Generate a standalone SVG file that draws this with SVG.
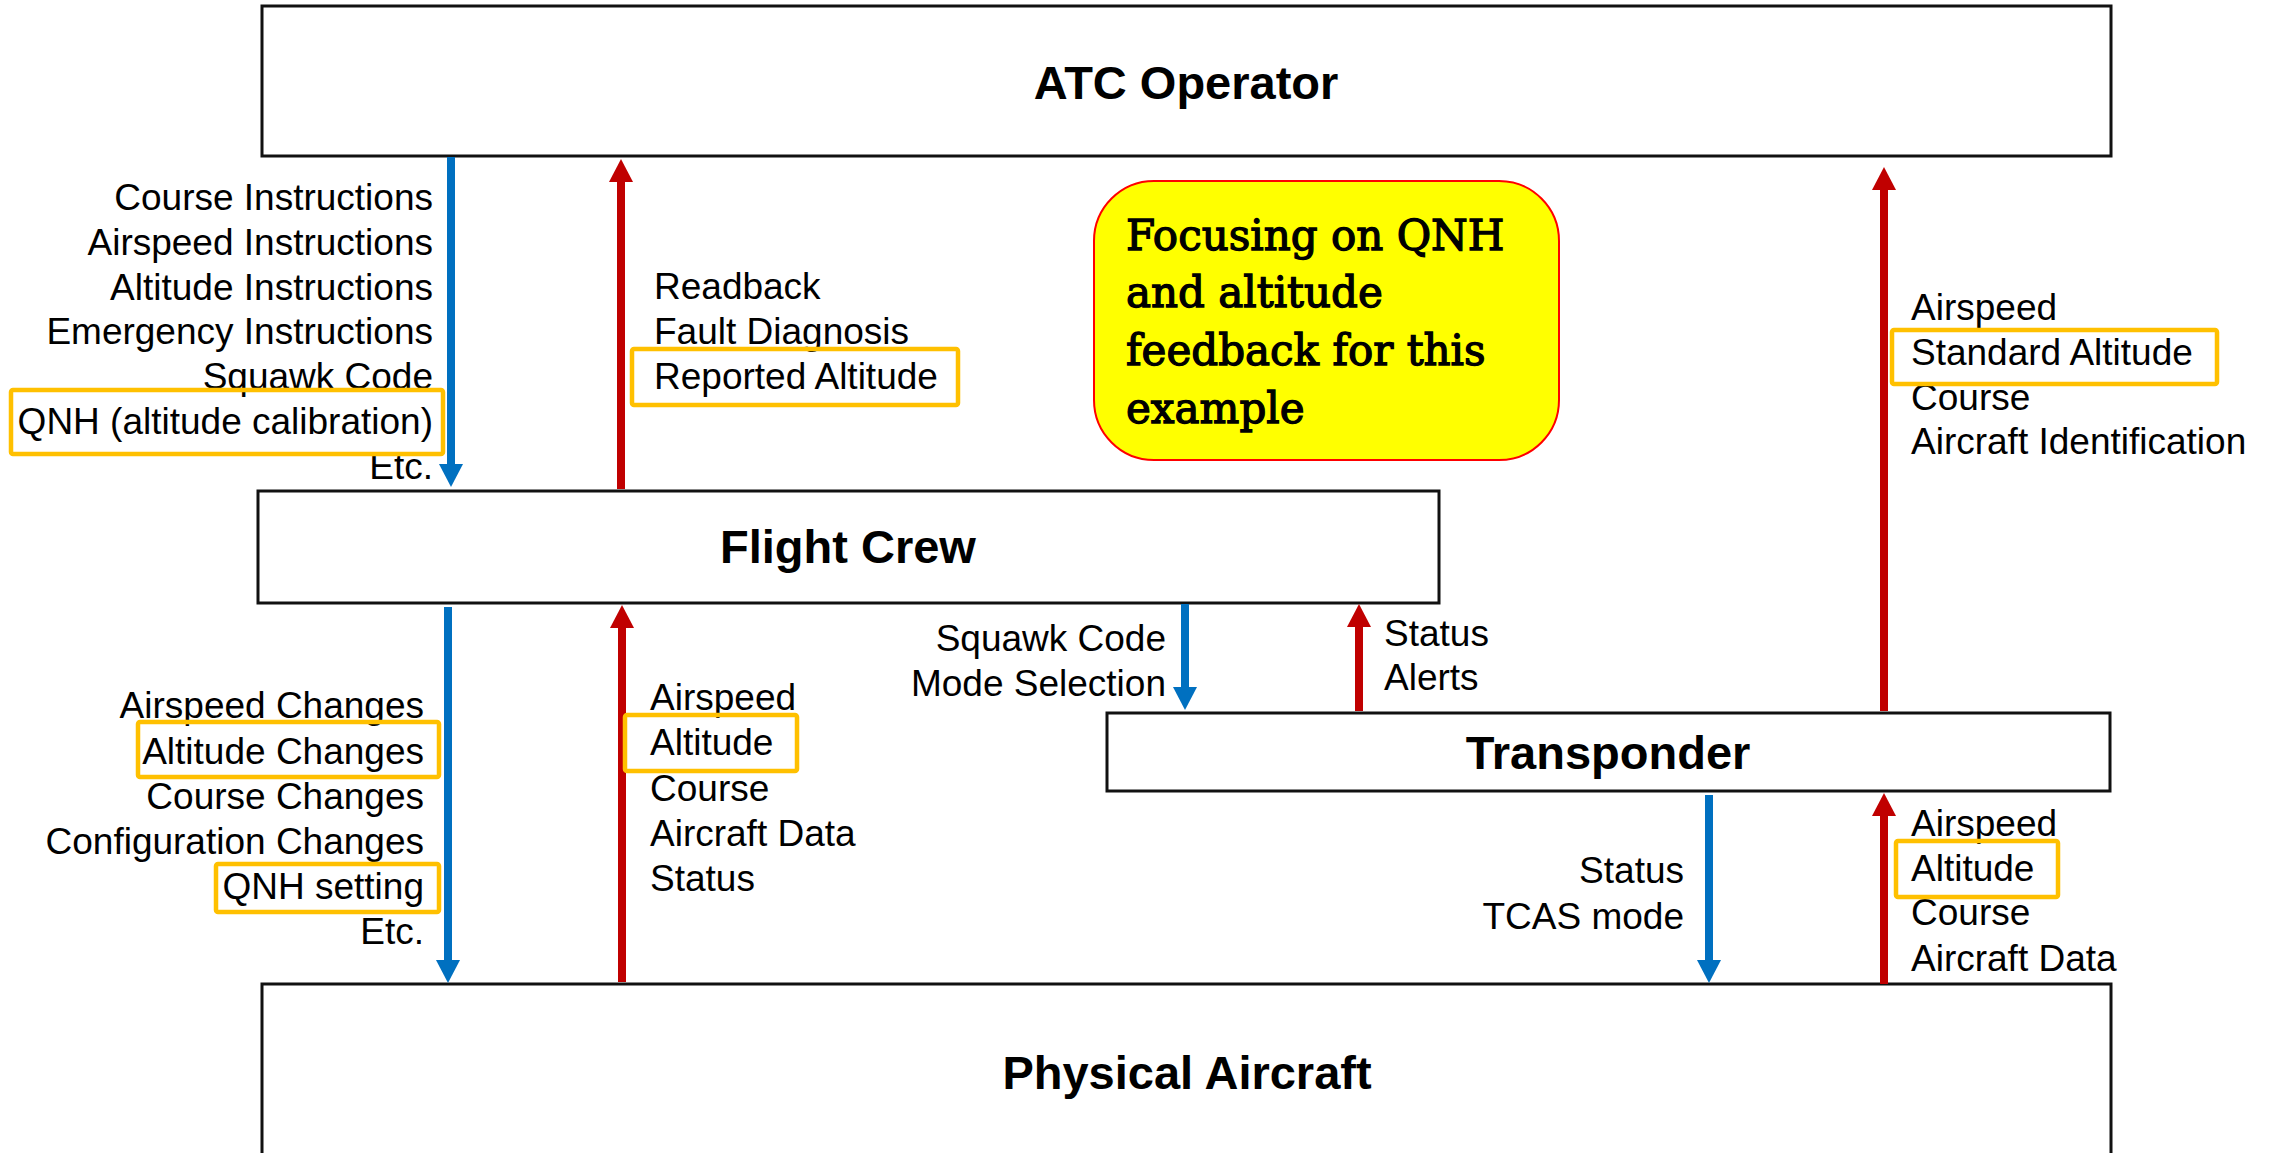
<svg xmlns="http://www.w3.org/2000/svg" width="2272" height="1153" viewBox="0 0 2272 1153">
  <defs>
    <style>
      .box { fill: #ffffff; stroke: #111111; stroke-width: 3; }
      .title { font-family: "Liberation Sans", Arial, sans-serif; font-weight: bold; font-size: 47px; fill: #000; text-anchor: middle; }
      .lbl { font-family: "Liberation Sans", Arial, sans-serif; font-size: 37px; fill: #000; }
      .r { text-anchor: end; }
      .hl { fill: none; stroke: #FFC000; stroke-width: 4.5; }
      .down { stroke: #0070C0; stroke-width: 8; fill: none; marker-end: url(#headBlue); }
      .up { stroke: #C00000; stroke-width: 8; fill: none; marker-end: url(#headRed); }
      .note { fill: #FFFF00; stroke: #FF0000; stroke-width: 2; }
      .noteText { font-family: "DejaVu Serif", "Liberation Serif", serif; font-size: 42px; fill: #000; stroke: #000; stroke-width: 1.3; }
    </style>
    <marker id="headBlue" markerUnits="userSpaceOnUse" markerWidth="24" markerHeight="24" refX="1" refY="12" orient="auto" viewBox="0 0 24 24">
      <path d="M0,0 L23,12 L0,24 z" fill="#0070C0"/>
    </marker>
    <marker id="headRed" markerUnits="userSpaceOnUse" markerWidth="24" markerHeight="24" refX="1" refY="12" orient="auto" viewBox="0 0 24 24">
      <path d="M0,0 L23,12 L0,24 z" fill="#C00000"/>
    </marker>
  </defs>

  <rect width="2272" height="1153" fill="#ffffff"/>

  <!-- Nodes -->
  <g id="atc-operator">
    <rect class="box" x="262" y="6" width="1849" height="150"/>
    <text class="title" x="1186" y="99">ATC Operator</text>
  </g>

  <g id="flight-crew">
    <rect class="box" x="258" y="491" width="1181" height="112"/>
    <text class="title" x="848" y="563">Flight Crew</text>
  </g>

  <g id="transponder">
    <rect class="box" x="1107" y="713" width="1003" height="78"/>
    <text class="title" x="1608" y="769">Transponder</text>
  </g>

  <g id="physical-aircraft">
    <rect class="box" x="262" y="984" width="1849" height="200"/>
    <text class="title" x="1187" y="1089">Physical Aircraft</text>
  </g>

  <g id="focus-note">
    <rect class="note" x="1094" y="181" width="465" height="279" rx="60" ry="60"/>
    <text class="noteText" x="1126" y="250">Focusing on QNH</text>
    <text class="noteText" x="1126" y="307">and altitude</text>
    <text class="noteText" x="1126" y="365">feedback for this</text>
    <text class="noteText" x="1126" y="423">example</text>
  </g>

  <!-- Connectors -->
  <g id="connectors">
    <!-- control actions (downward) -->
    <line class="down" x1="451" y1="157" x2="451" y2="465"/>
    <line class="down" x1="448" y1="607" x2="448" y2="961"/>
    <line class="down" x1="1185" y1="604" x2="1185" y2="688"/>
    <line class="down" x1="1709" y1="795" x2="1709" y2="961"/>
    <!-- feedback (upward) -->
    <line class="up" x1="621" y1="489" x2="621" y2="181"/>
    <line class="up" x1="622" y1="982" x2="622" y2="627"/>
    <line class="up" x1="1359" y1="711" x2="1359" y2="626"/>
    <line class="up" x1="1884" y1="711" x2="1884" y2="189"/>
    <line class="up" x1="1884" y1="984" x2="1884" y2="815"/>
  </g>

  <!-- ATC to crew instructions -->
  <g id="labels-atc-crew">
    <text class="lbl r" x="433" y="210">Course Instructions</text>
    <text class="lbl r" x="433" y="255">Airspeed Instructions</text>
    <text class="lbl r" x="433" y="300">Altitude Instructions</text>
    <text class="lbl r" x="433" y="344">Emergency Instructions</text>
    <text class="lbl r" x="433" y="389">Squawk Code</text>
    <text class="lbl r" x="433" y="434">QNH (altitude calibration)</text>
    <text class="lbl r" x="433" y="479">Etc.</text>
    <rect class="hl" x="11" y="390" width="432" height="64" rx="2"/>
  </g>

  <!-- crew to ATC feedback -->
  <g id="labels-crew-atc">
    <text class="lbl" x="654" y="299">Readback</text>
    <text class="lbl" x="654" y="344">Fault Diagnosis</text>
    <text class="lbl" x="654" y="389">Reported Altitude</text>
    <rect class="hl" x="632" y="349" width="326" height="56" rx="2"/>
  </g>

  <!-- transponder to ATC feedback -->
  <g id="labels-xpdr-atc">
    <text class="lbl" x="1911" y="320">Airspeed</text>
    <text class="lbl" x="1911" y="365">Standard Altitude</text>
    <text class="lbl" x="1911" y="410">Course</text>
    <text class="lbl" x="1911" y="454">Aircraft Identification</text>
    <rect class="hl" x="1892" y="330" width="325" height="54" rx="2"/>
  </g>

  <!-- crew to aircraft control actions -->
  <g id="labels-crew-aircraft">
    <text class="lbl r" x="424" y="718">Airspeed Changes</text>
    <text class="lbl r" x="424" y="764">Altitude Changes</text>
    <text class="lbl r" x="424" y="809">Course Changes</text>
    <text class="lbl r" x="424" y="854">Configuration Changes</text>
    <text class="lbl r" x="424" y="899">QNH setting</text>
    <text class="lbl r" x="424" y="944">Etc.</text>
    <rect class="hl" x="138" y="722" width="301" height="55" rx="2"/>
    <rect class="hl" x="216" y="864" width="223" height="48" rx="2"/>
  </g>

  <!-- aircraft to crew feedback -->
  <g id="labels-aircraft-crew">
    <text class="lbl" x="650" y="710">Airspeed</text>
    <text class="lbl" x="650" y="755">Altitude</text>
    <text class="lbl" x="650" y="801">Course</text>
    <text class="lbl" x="650" y="846">Aircraft Data</text>
    <text class="lbl" x="650" y="891">Status</text>
    <rect class="hl" x="625" y="715" width="172" height="56" rx="2"/>
  </g>

  <!-- crew / transponder exchange -->
  <g id="labels-crew-xpdr">
    <text class="lbl r" x="1166" y="651">Squawk Code</text>
    <text class="lbl r" x="1166" y="696">Mode Selection</text>
    <text class="lbl" x="1384" y="646">Status</text>
    <text class="lbl" x="1384" y="690">Alerts</text>
  </g>

  <!-- transponder / aircraft exchange -->
  <g id="labels-xpdr-aircraft">
    <text class="lbl r" x="1684" y="883">Status</text>
    <text class="lbl r" x="1684" y="929">TCAS mode</text>
    <text class="lbl" x="1911" y="836">Airspeed</text>
    <text class="lbl" x="1911" y="881">Altitude</text>
    <text class="lbl" x="1911" y="925">Course</text>
    <text class="lbl" x="1911" y="971">Aircraft Data</text>
    <rect class="hl" x="1896" y="841" width="162" height="56" rx="2"/>
  </g>
</svg>
